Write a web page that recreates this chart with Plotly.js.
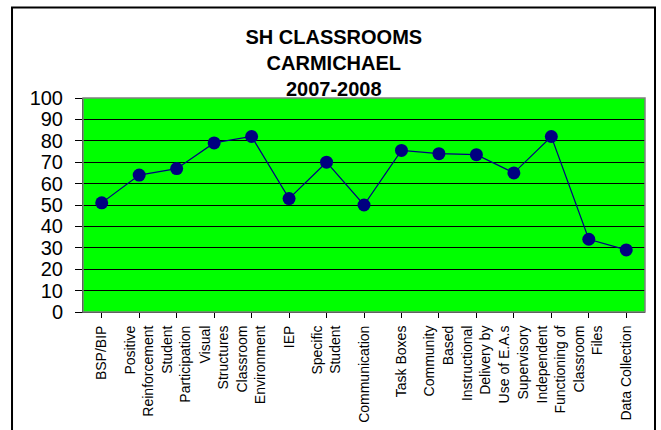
<!DOCTYPE html>
<html>
<head>
<meta charset="utf-8">
<script src="https://cdn.plot.ly/plotly-3.0.1.min.js"></script>
<style>html,body{margin:0;padding:0;background:#fff;}#chart{width:661px;height:430px;}</style>
</head>
<body>
<div id="chart"></div>
<script>
const categories = [
  "BSP/BIP",
  "Positive<br>Reinforcement",
  "Student<br>Participation",
  "Visual<br>Structures",
  "Classroom<br>Environment",
  "IEP",
  "Specific<br>Student",
  "Communication",
  "Task Boxes",
  "Community<br>Based",
  "Instructional<br>Delivery by",
  "Use of E.A.s<br>Supervisory",
  "Independent<br>Functioning of",
  "Classroom<br>Files",
  "Data Collection"
];
const scores = [51, 64, 67, 79, 82, 53, 70, 50, 75.5, 74, 73.5, 65, 82, 34, 29];
const titleLines = ["SH CLASSROOMS", "CARMICHAEL", "2007-2008"];
const yTicks = [0,10,20,30,40,50,60,70,80,90,100];

const xIdx = categories.map((_, i) => i);

const trace = {
  type: 'scatter',
  mode: 'lines+markers',
  x: xIdx,
  y: scores,
  line: {color: '#000080', width: 1.2},
  marker: {color: '#000080', size: 13, line: {width: 0}},
  cliponaxis: false,
  hoverinfo: 'skip'
};

const layout = {
  width: 661, height: 430,
  margin: {l: 83, r: 16, t: 98, b: 118},
  paper_bgcolor: '#ffffff',
  plot_bgcolor: '#00ff00',
  showlegend: false,
  font: {family: 'Liberation Sans, Arial, sans-serif', color: '#000'},
  title: {
    text: titleLines.join('<br>'),
    font: {family: 'Liberation Sans, Arial, sans-serif', size: 20, color: '#000', weight: 'bold'},
    x: 0.505, xanchor: 'center', xref: 'container',
    y: 0.897, yanchor: 'top', yref: 'container'
  },
  xaxis: {
    range: [-0.5, categories.length - 0.5],
    tickmode: 'array',
    tickvals: xIdx,
    ticktext: categories,
    tickangle: -90,
    tickfont: {size: 14, color: '#000'},
    showgrid: false,
    zeroline: false,
    showline: true, linecolor: '#000', linewidth: 1,
    ticks: 'outside', ticklen: 5, tickcolor: '#000', tickson: 'boundaries',
    ticklabelstandoff: 2,
    fixedrange: true
  },
  yaxis: {
    range: [0, 100],
    tickmode: 'array',
    tickvals: yTicks,
    ticktext: yTicks.map(String),
    tickfont: {size: 20, color: '#000'},
    showgrid: true, gridcolor: '#000', gridwidth: 1,
    zeroline: false,
    showline: true, linecolor: '#000', linewidth: 1,
    ticks: 'outside', ticklen: 7, tickcolor: '#000',
    ticklabelstandoff: 8,
    fixedrange: true
  },
  shapes: [
    {type: 'rect', xref: 'paper', yref: 'paper', x0: 0, x1: 1, y0: 0, y1: 1,
     line: {color: '#808080', width: 1.5}, fillcolor: 'rgba(0,0,0,0)', layer: 'above'},
    {type: 'rect', xref: 'paper', yref: 'paper', x0: -0.1263, x1: 1.0178, y0: -0.6, y1: 1.4229,
     line: {color: '#000', width: 2}, fillcolor: 'rgba(0,0,0,0)'}
  ]
};

Plotly.newPlot('chart', [trace], layout, {displayModeBar: false, staticPlot: true});
</script>
</body>
</html>
